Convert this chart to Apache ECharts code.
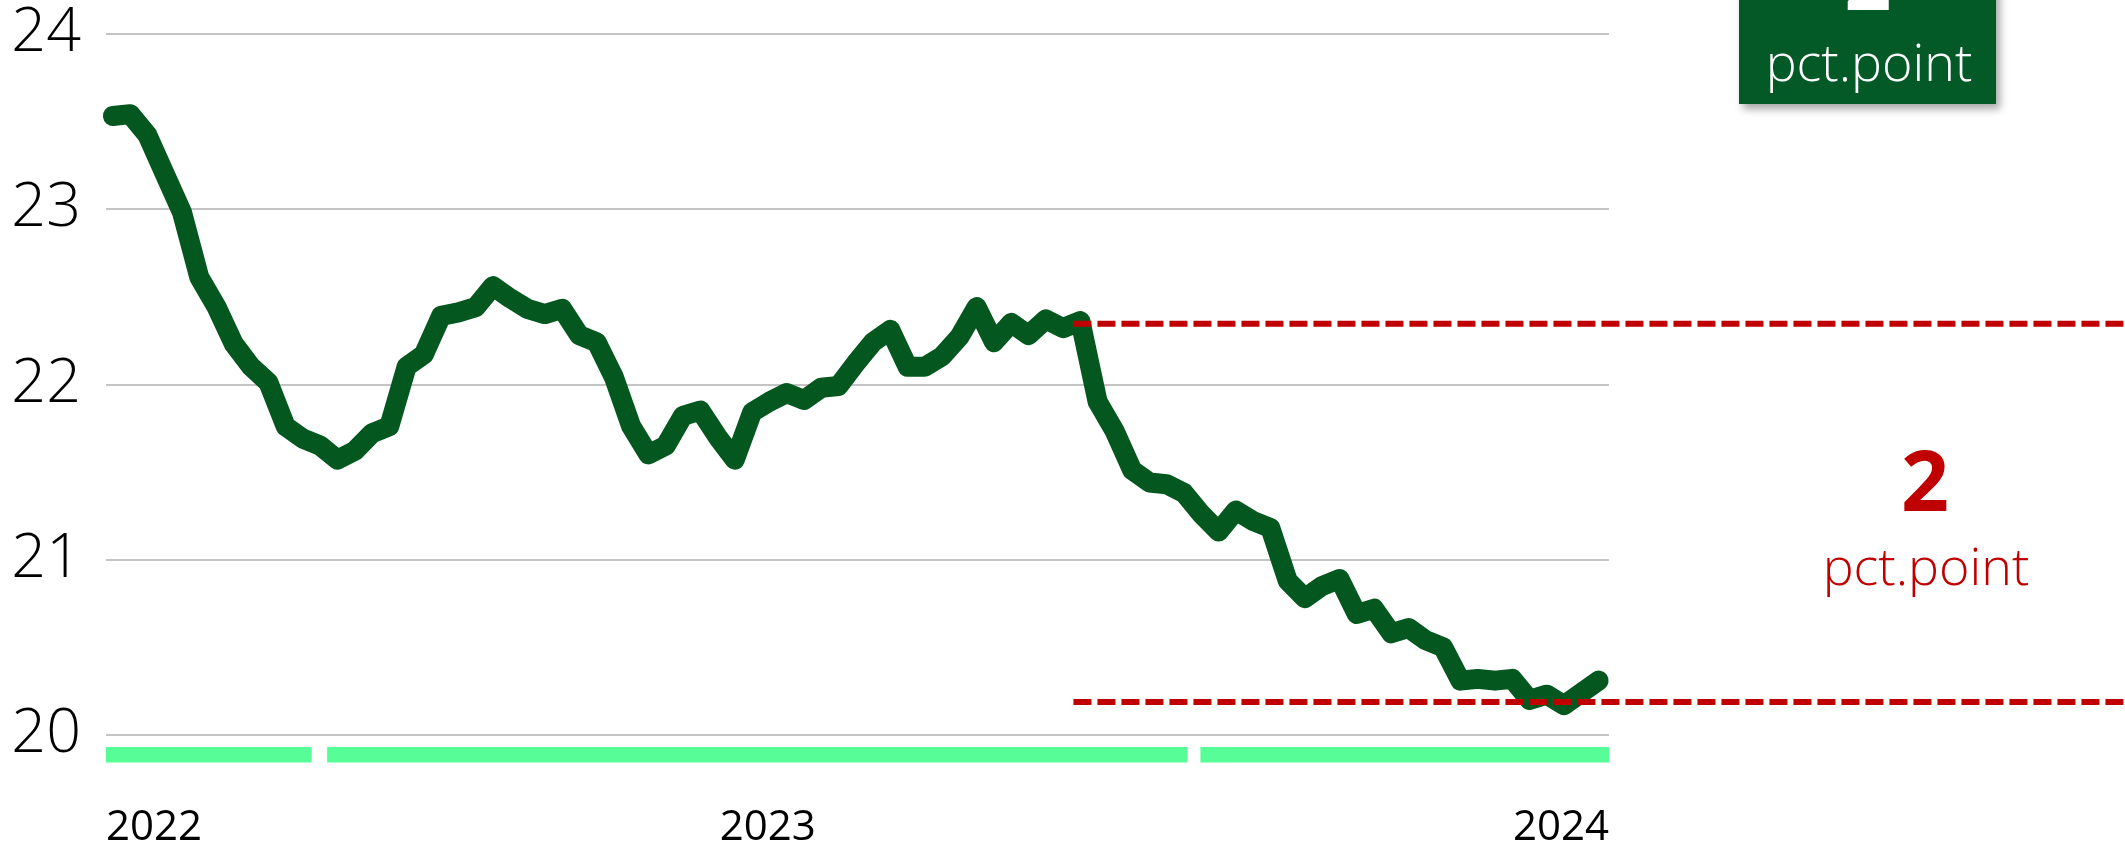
<!DOCTYPE HTML>
<html>
    <head>
        <meta charset="utf-8">
        <title>pct.point</title>
        <script src="https://cdn.jsdelivr.net/npm/echarts@6/dist/echarts.min.js"></script>
        <style>
            body { margin: 0; background: #fff; }
            #chart { width: 2125px; height: 849px; }
        </style>
    </head>
    <body>
        <div id="chart"></div>
        <script>
        var values = [
            23.53, 23.54, 23.42, 23.20, 22.98, 22.61, 22.44, 22.23, 22.10, 22.01,
            21.76, 21.69, 21.65, 21.57, 21.62, 21.72, 21.76, 22.10, 22.17, 22.39,
            22.41, 22.44, 22.56, 22.49, 22.43, 22.40, 22.43, 22.28, 22.24, 22.04,
            21.76, 21.60, 21.65, 21.82, 21.85, 21.70, 21.57, 21.84, 21.90, 21.95,
            21.91, 21.98, 21.99, 22.12, 22.24, 22.31, 22.10, 22.10, 22.16, 22.27,
            22.44, 22.24, 22.35, 22.28, 22.37, 22.32, 22.36, 21.90, 21.73, 21.51,
            21.44, 21.43, 21.38, 21.26, 21.16, 21.28, 21.22, 21.18, 20.88, 20.78,
            20.85, 20.89, 20.69, 20.72, 20.58, 20.61, 20.54, 20.50, 20.31, 20.32,
            20.31, 20.32, 20.20, 20.23, 20.17, 20.24, 20.31
        ];
        // x axis: observation index
        var yearLabels = ['2022', '2023', '2024'];
        var yearTicks = [-0.4, 37.9, 86.6];
        // green periods under the axis (from, to) in observation index
        var stripFrom = [-0.4, 12.4, 62.95];
        var stripTo = [11.5, 62.2, 86.6];
        // the two red reference levels
        var refStart = 55.6;
        var refHigh = 22.35;
        var refLow = 20.2;
        var diffText = '2';
        var unitText = 'pct.point';

        var green = '#04571f';
        var boxGreen = '#045a26';
        var red = '#c00000';
        var stripGreen = '#57fe98';
        var font = "'Open Sans', 'Noto Sans', sans-serif";

        var W = 2125;
        var plotLeft = 106, plotRight = 1609, plotTop = 33.5, plotBottom = 737.3;
        var xMin = -0.4, xMax = 86.6;
        // second grid runs to the page edge with the same x scale
        var xMaxWide = xMin + (xMax - xMin) * (W - plotLeft) / (plotRight - plotLeft);

        var chart = echarts.init(document.getElementById('chart'));

        var lineData = values.map(function (v, i) { return [i, v]; });
        var strips = stripFrom.map(function (s, i) { return [s, stripTo[i]]; });

        var option = {
            animation: false,
            grid: [
                { left: plotLeft, width: plotRight - plotLeft, top: plotTop, height: plotBottom - plotTop },
                { left: plotLeft, width: W - plotLeft, top: plotTop, height: plotBottom - plotTop },
                { left: plotLeft, width: plotRight - plotLeft, top: 747, height: 15.5 }
            ],
            xAxis: [
                {
                    gridIndex: 0, type: 'value', min: xMin, max: xMax,
                    axisLine: { show: false }, axisTick: { show: false }, splitLine: { show: false },
                    axisLabel: {
                        customValues: yearTicks,
                        formatter: function (v) { return yearLabels[yearTicks.indexOf(v)]; },
                        alignMinLabel: 'left', alignMaxLabel: 'right',
                        margin: 72, fontSize: 42, color: '#000', fontFamily: font
                    }
                },
                { gridIndex: 1, type: 'value', min: xMin, max: xMaxWide, show: false },
                { gridIndex: 2, type: 'value', min: xMin, max: xMax, show: false }
            ],
            yAxis: [
                {
                    gridIndex: 0, type: 'value', min: 20, max: 24, interval: 1,
                    axisLine: { show: false }, axisTick: { show: false },
                    splitLine: { lineStyle: { color: '#c4c4c4', width: 2 } },
                    axisLabel: { fontSize: 61, fontWeight: 300, margin: 25, color: '#000', fontFamily: font }
                },
                { gridIndex: 1, type: 'value', min: 20, max: 24, show: false },
                { gridIndex: 2, type: 'value', min: 0, max: 1, show: false }
            ],
            series: [
                {
                    type: 'line', xAxisIndex: 0, yAxisIndex: 0, data: lineData,
                    symbol: 'none', silent: true, z: 3,
                    lineStyle: { color: green, width: 20, cap: 'round', join: 'round' }
                },
                {
                    type: 'line', xAxisIndex: 1, yAxisIndex: 1,
                    data: [[refStart, refHigh], [xMaxWide, refHigh]],
                    symbol: 'none', silent: true, z: 5,
                    lineStyle: { color: red, width: 6, type: [18, 6] }
                },
                {
                    type: 'line', xAxisIndex: 1, yAxisIndex: 1,
                    data: [[refStart, refLow], [xMaxWide, refLow]],
                    symbol: 'none', silent: true, z: 5,
                    lineStyle: { color: red, width: 6, type: [18, 6] }
                },
                {
                    type: 'custom', xAxisIndex: 2, yAxisIndex: 2, data: strips,
                    encode: { x: [0, 1] }, silent: true,
                    renderItem: function (params, api) {
                        var a = api.coord([api.value(0), 1]);
                        var b = api.coord([api.value(1), 0]);
                        return {
                            type: 'rect',
                            shape: { x: a[0], y: a[1], width: b[0] - a[0], height: b[1] - a[1] },
                            style: { fill: stripGreen }
                        };
                    }
                }
            ],
            graphic: [
                {
                    type: 'rect', shape: { x: 1739, y: -20, width: 257, height: 124 },
                    style: { fill: boxGreen, shadowBlur: 8, shadowOffsetX: 4, shadowOffsetY: 5, shadowColor: 'rgba(0,0,0,0.35)' }
                },
                {
                    type: 'text', x: 1868, y: -13,
                    style: { text: diffText, fill: '#fff', font: 'bold 82px ' + font, align: 'center', verticalAlign: 'middle' }
                },
                {
                    type: 'text', x: 1869, y: 66,
                    style: { text: unitText, fill: '#fff', font: '300 52px ' + font, align: 'center', verticalAlign: 'middle' }
                },
                {
                    type: 'text', x: 1925, y: 487,
                    style: { text: diffText, fill: red, font: 'bold 84px ' + font, align: 'center', verticalAlign: 'middle' }
                },
                {
                    type: 'text', x: 1926, y: 570,
                    style: { text: unitText, fill: red, font: '300 52px ' + font, align: 'center', verticalAlign: 'middle' }
                }
            ]
        };
        chart.setOption(option);
        </script>
    </body>
</html>
